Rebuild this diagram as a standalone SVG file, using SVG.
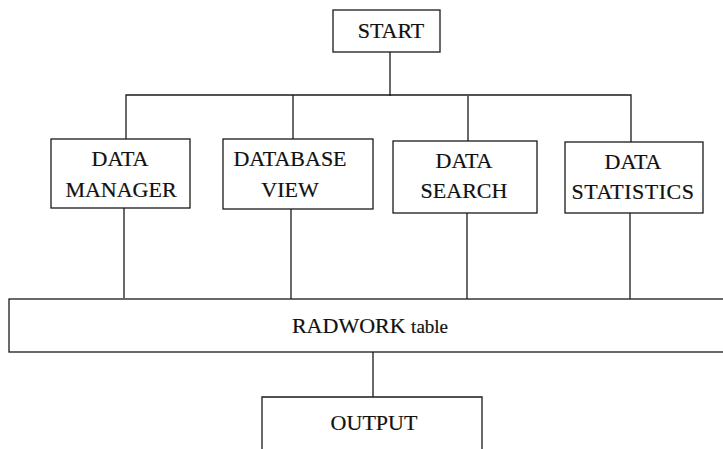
<svg xmlns="http://www.w3.org/2000/svg" width="723" height="449" viewBox="0 0 723 449">
  <style>
    .box { fill: #ffffff; stroke: #1a1a1a; stroke-width: 1.3; }
    .wire { fill: none; stroke: #1a1a1a; stroke-width: 1.3; }
    .lbl { font-family: "Liberation Serif", "Times New Roman", serif; font-size: 22px; fill: #111111; text-anchor: middle; stroke: #111111; stroke-width: 0.2; }
  </style>
  <rect width="723" height="449" fill="#ffffff"/>

  <!-- connectors: trunk from START, bus, drops into the table, link to OUTPUT -->
  <g id="connectors">
    <path class="wire" d="M390 52 V96"/>
    <path class="wire" d="M126 139 V95 H631 V142"/>
    <path class="wire" d="M293 95 V139"/>
    <path class="wire" d="M468 96 V141"/>
    <path class="wire" d="M124 208 V298"/>
    <path class="wire" d="M291 209 V299"/>
    <path class="wire" d="M467 213 V300"/>
    <path class="wire" d="M630 213 V302"/>
    <path class="wire" d="M373 352 V397"/>
  </g>

  <g id="start">
    <rect class="box" x="333" y="10" width="107" height="42"/>
    <text class="lbl" x="391" y="38">START</text>
  </g>

  <g id="data-manager">
    <rect class="box" x="51" y="139" width="139" height="69"/>
    <text class="lbl" x="120" y="166">DATA</text>
    <text class="lbl" x="121" y="197">MANAGER</text>
  </g>

  <g id="database-view">
    <rect class="box" x="223" y="139" width="150" height="70"/>
    <text class="lbl" x="290" y="166">DATABASE</text>
    <text class="lbl" x="290" y="197">VIEW</text>
  </g>

  <g id="data-search">
    <rect class="box" x="393" y="141" width="144" height="72"/>
    <text class="lbl" x="464" y="168">DATA</text>
    <text class="lbl" x="464" y="198">SEARCH</text>
  </g>

  <g id="data-statistics">
    <rect class="box" x="565" y="142" width="138" height="71"/>
    <text class="lbl" x="633" y="169">DATA</text>
    <text class="lbl" x="633" y="199" letter-spacing="0.5">STATISTICS</text>
  </g>

  <g id="radwork-table">
    <rect class="box" x="9" y="299" width="730" height="53"/>
    <text class="lbl" x="370" y="333">RADWORK <tspan font-size="19">table</tspan></text>
  </g>

  <g id="output">
    <path class="box" d="M262 452 V397 H482 V452"/>
    <text class="lbl" x="374" y="430">OUTPUT</text>
  </g>
</svg>
